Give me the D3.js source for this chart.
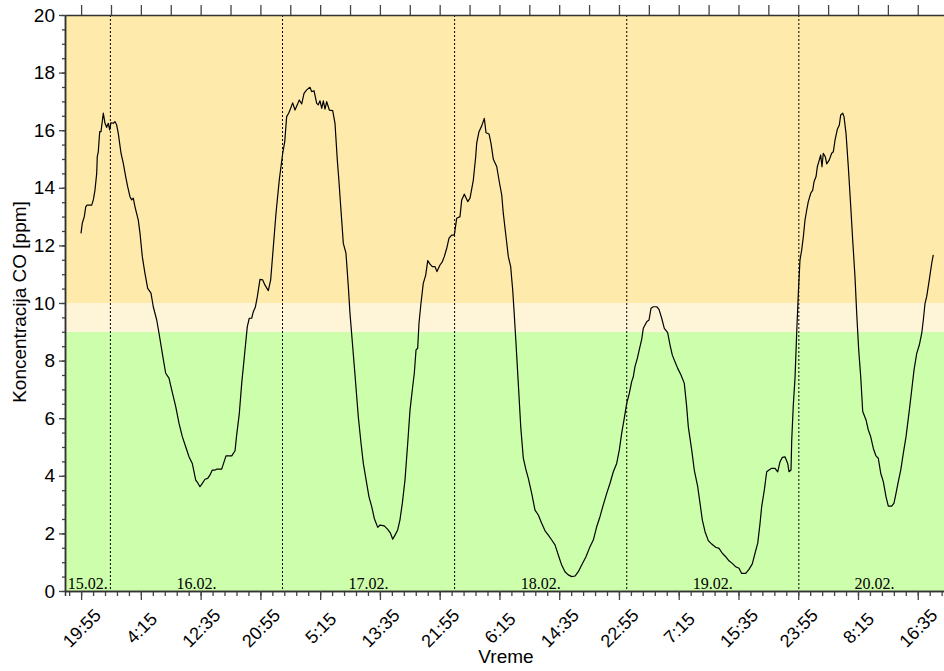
<!DOCTYPE html>
<html>
<head>
<meta charset="utf-8">
<script src="https://cdn.jsdelivr.net/npm/d3@7"></script>
<style>
  body { margin: 0; background: #fff; }
  svg { display: block; font-family: "Liberation Sans", Arial, sans-serif; }
</style>
</head>
<body>
<div id="chart"></div>
<script>
// sati od 15.02. 00:00
const hours = [
  19.90,20.08,20.36,20.56,20.74,21.39,21.62,21.85,22.09,22.17,
  22.31,22.51,22.69,23.01,23.25,23.48,23.71,23.90,24.08,24.40,
  24.64,24.88,25.10,25.48,25.80,26.13,26.41,26.73,26.97,27.19,
  27.43,27.89,28.13,28.45,28.82,29.20,29.66,29.98,30.46,30.78,
  31.24,31.71,32.17,32.55,33.11,33.57,34.03,34.50,34.96,35.42,
  35.90,36.17,36.49,36.82,37.19,37.57,37.89,38.21,38.59,38.82,
  39.52,40.12,40.92,41.38,41.61,41.98,42.31,42.77,43.09,43.37,
  43.70,43.93,44.21,44.49,44.86,45.24,45.56,46.02,46.35,46.72,
  47.09,47.55,48.03,48.31,48.58,48.86,49.14,49.42,49.74,50.06,
  50.34,50.68,51.00,51.37,51.83,52.07,52.39,52.77,52.99,53.23,
  53.47,53.69,53.93,54.16,54.53,55.00,55.32,55.64,55.84,56.12,
  56.48,56.85,57.18,57.41,57.79,58.11,58.57,58.95,59.27,59.74,
  60.06,60.44,60.80,61.28,61.60,62.20,62.67,63.03,63.37,63.69,
  64.06,64.38,64.71,65.08,65.46,65.78,66.10,66.38,66.62,66.85,
  67.03,67.31,67.63,67.97,68.25,68.57,68.89,69.27,69.54,69.96,
  70.28,70.56,70.90,71.22,71.59,71.96,72.29,72.75,72.99,73.35,
  73.83,74.15,74.61,74.94,75.08,75.40,75.78,76.14,76.38,76.80,
  77.07,77.40,77.87,78.23,78.57,78.79,79.17,79.49,79.82,80.10,
  80.28,80.56,80.88,81.22,81.58,81.96,82.28,82.75,83.21,83.67,
  84.14,84.61,85.07,85.54,86.00,86.46,86.93,87.39,87.85,88.33,
  88.79,89.25,89.72,90.32,90.88,91.34,91.81,92.27,92.73,93.21,
  93.67,94.13,94.60,94.97,95.30,95.62,96.00,96.36,96.69,96.92,
  97.15,97.48,97.76,98.09,98.31,98.79,99.11,99.39,99.71,100.18,
  100.50,100.88,101.24,101.71,102.04,102.36,102.73,103.11,103.57,104.03,
  104.36,104.59,105.06,105.42,105.90,106.22,106.54,106.92,107.38,107.85,
  108.41,108.87,109.33,109.80,110.26,110.72,111.20,111.66,112.03,112.59,
  113.05,113.51,113.89,114.27,114.59,114.82,115.19,115.52,115.84,116.22,
  116.68,117.05,117.38,117.70,118.07,118.45,118.63,118.91,119.01,119.23,
  119.47,119.70,119.93,120.16,120.40,120.63,120.86,121.10,121.32,121.66,
  121.94,122.12,122.40,122.58,122.86,123.05,123.23,123.41,123.69,123.89,
  124.25,124.58,124.81,125.05,125.37,125.65,125.84,126.12,126.30,126.58,
  126.90,127.24,127.51,127.83,128.07,128.35,128.63,128.91,129.37,129.69,
  130.02,130.39,130.76,131.08,131.42,131.78,132.16,132.48,132.95,133.27,
  133.55,133.87,134.21,134.57,134.95,135.41,135.74,136.06,136.44,136.80,
  137.14,137.36,137.60,137.83,138.19,138.53,138.75
];

// koncentracija CO [ppm]
const coPpm = [
  12.42,12.77,13.00,13.34,13.40,13.40,13.58,13.92,14.50,15.08,
  15.25,15.95,15.95,16.59,16.24,16.10,16.24,16.01,16.26,16.24,
  16.30,16.18,15.89,15.20,14.85,14.39,14.04,13.69,13.58,13.64,
  13.34,12.88,12.42,11.61,11.03,10.51,10.34,9.87,9.41,8.95,
  8.25,7.56,7.39,6.98,6.40,5.82,5.36,5.01,4.66,4.43,
  3.85,3.76,3.62,3.74,3.88,3.91,4.03,4.20,4.20,4.23,
  4.23,4.69,4.69,4.87,5.42,6.17,7.21,8.37,9.18,9.47,
  9.47,9.70,9.85,10.22,10.82,10.80,10.62,10.43,10.80,11.95,
  13.11,14.27,15.20,15.60,16.47,16.59,16.76,16.95,16.70,16.88,
  17.05,16.91,17.28,17.40,17.49,17.34,17.37,16.93,16.88,17.02,
  16.76,17.02,16.73,16.99,16.70,16.68,16.24,14.97,14.33,13.34,
  12.07,11.73,10.57,9.64,8.48,7.50,6.05,5.13,4.43,3.74,
  3.27,2.93,2.52,2.21,2.29,2.26,2.14,2.02,1.80,1.94,
  2.12,2.47,3.05,3.85,5.13,6.28,6.98,7.56,8.37,8.43,
  9.29,9.99,10.68,10.97,11.47,11.35,11.26,11.26,11.09,11.32,
  11.43,11.61,11.90,12.25,12.36,12.36,12.94,13.00,13.58,13.78,
  13.52,13.64,14.27,15.08,15.55,15.95,16.15,16.41,15.91,15.87,
  15.55,14.99,14.74,14.21,13.75,13.11,12.30,11.61,11.26,10.45,
  9.76,8.60,7.21,5.70,4.61,4.20,3.91,3.39,2.81,2.64,
  2.35,2.09,1.94,1.77,1.60,1.25,0.90,0.67,0.56,0.50,
  0.52,0.67,0.90,1.19,1.54,1.77,2.23,2.58,2.99,3.39,
  3.74,4.14,4.43,4.90,5.48,5.94,6.52,6.86,7.27,7.44,
  7.79,8.08,8.39,8.74,9.12,9.35,9.41,9.82,9.87,9.87,
  9.78,9.47,9.12,8.97,8.54,8.19,7.96,7.73,7.50,7.21,
  6.40,5.70,4.90,4.20,3.62,3.05,2.47,2.06,1.75,1.63,
  1.52,1.48,1.31,1.19,1.05,0.96,0.84,0.79,0.61,0.61,
  0.75,0.94,1.31,1.66,2.35,2.93,3.51,4.14,4.20,4.26,
  4.26,4.14,4.49,4.64,4.66,4.43,4.14,4.20,5.24,6.46,
  7.40,8.95,10.34,11.49,11.84,12.30,12.88,13.23,13.52,13.81,
  13.92,14.21,14.39,14.73,14.97,15.14,14.73,15.20,15.08,14.83,
  14.97,15.20,15.25,15.66,16.03,16.18,16.53,16.59,16.47,15.89,
  14.73,13.34,12.19,10.91,9.64,8.37,7.44,6.23,5.94,5.59,
  5.36,4.95,4.69,4.61,4.09,3.80,3.27,2.95,2.95,3.05,
  3.39,3.80,4.20,4.78,5.36,6.28,6.98,7.67,8.25,8.54,
  8.95,9.41,9.99,10.22,10.80,11.38,11.67
];

const xTickLabels = ["19:55", "4:15", "12:35", "20:55", "5:15", "13:35", "21:55", "6:15",
  "14:35", "22:55", "7:15", "15:35", "23:55", "8:15", "16:35"];
const dayLabels = ["15.02.", "16.02.", "17.02.", "18.02.", "19.02.", "20.02."];
const yTicks = [0, 2, 4, 6, 8, 10, 12, 14, 16, 18, 20];
const limits = [9, 10]; // granice zona

const width = 944, height = 671;
const plotLeft = 65, plotRight = 950, plotTop = 15, plotBottom = 591;

const base = Date.UTC(2016, 1, 15);
const toDate = h => new Date(base + h * 3600e3);
const firstTick = 19 + 55 / 60; // 19:55 prvog dana
const stepH = 500 / 60;        // razmak glavnih oznaka

const data = hours.map((h, i) => ({ t: toDate(h), v: coPpm[i] }));

const x = d3.scaleTime().domain([toDate(17.67), toDate(141.08)]).range([plotLeft, plotRight]);
const y = d3.scaleLinear().domain([0, 20]).range([plotBottom, plotTop]);

const svg = d3.select("#chart").append("svg")
  .attr("width", width)
  .attr("height", height);

// zone u pozadini
const zones = [
  { from: 0, to: limits[0], fill: "#ccfeab" },
  { from: limits[0], to: limits[1], fill: "#fef4d7" },
  { from: limits[1], to: 20, fill: "#feebab" }
];
svg.selectAll("rect.zone")
  .data(zones)
  .enter()
  .append("rect")
  .attr("class", "zone")
  .attr("x", plotLeft)
  .attr("width", plotRight - plotLeft)
  .attr("y", d => y(d.to))
  .attr("height", d => y(d.from) - y(d.to))
  .attr("fill", d => d.fill);

// ponoc - isprekidane linije
const midnights = d3.range(1, dayLabels.length).map(d => toDate(d * 24));
svg.selectAll("line.midnight")
  .data(midnights)
  .enter()
  .append("line")
  .attr("class", "midnight")
  .attr("x1", d => x(d)).attr("x2", d => x(d))
  .attr("y1", plotTop).attr("y2", plotBottom)
  .attr("stroke", "#000")
  .attr("stroke-width", 1)
  .attr("stroke-dasharray", "2,2");

// datumi dole
svg.selectAll("text.day")
  .data(dayLabels)
  .enter()
  .append("text")
  .attr("class", "day")
  .attr("x", (d, i) => {
    const a = Math.max(x(toDate(i * 24)), plotLeft);
    const b = Math.min(x(toDate((i + 1) * 24)), plotRight);
    return (a + b) / 2;
  })
  .attr("y", plotBottom - 2)
  .attr("text-anchor", "middle")
  .style("font-family", '"Liberation Serif", "Times New Roman", serif')
  .style("font-size", "16px")
  .attr("fill", "#000")
  .text(d => d);

// linija
const line = d3.line()
  .x(d => x(d.t))
  .y(d => y(d.v));

svg.append("path")
  .datum(data)
  .attr("fill", "none")
  .attr("stroke", "#000")
  .attr("stroke-width", 1.2)
  .attr("stroke-linejoin", "round")
  .attr("d", line);

// ose
const majorX = xTickLabels.map((d, i) => toDate(firstTick + i * stepH));
const minorX = d3.range(-1, xTickLabels.length * 5).map(i => toDate(firstTick + i * stepH / 5))
  .filter(d => x(d) >= plotLeft && x(d) <= plotRight);
const topX = d3.range(0, xTickLabels.length * 2 + 1).map(i => toDate(firstTick + i * stepH / 2))
  .filter(d => x(d) >= plotLeft && x(d) <= plotRight);

function styleAxis(g) {
  g.select(".domain").attr("stroke", "#333").attr("stroke-width", 1.5);
  g.selectAll(".tick line").attr("stroke", "#444").attr("stroke-width", 1.3);
}

svg.append("g")
  .attr("transform", `translate(0,${plotBottom})`)
  .call(d3.axisBottom(x).tickValues(minorX).tickSize(5).tickFormat(""))
  .call(styleAxis);

const gx = svg.append("g")
  .attr("transform", `translate(0,${plotBottom})`)
  .call(d3.axisBottom(x).tickValues(majorX).tickSize(9).tickSizeOuter(0)
    .tickFormat((d, i) => xTickLabels[i]))
  .call(styleAxis);
gx.selectAll("text")
  .attr("y", 0)
  .attr("dy", "0.35em")
  .attr("text-anchor", "middle")
  .attr("transform", "translate(0,37) rotate(-45)")
  .attr("fill", "#000")
  .style("font-size", "18px")
  .style("font-family", '"Liberation Sans", Arial, sans-serif');

svg.append("g")
  .attr("transform", `translate(0,${plotTop})`)
  .call(d3.axisTop(x).tickValues(topX).tickSize(10).tickSizeOuter(0).tickFormat(""))
  .call(styleAxis);

const minorY = d3.range(0, 20.01, 0.5);
svg.append("g")
  .attr("transform", `translate(${plotLeft},0)`)
  .call(d3.axisLeft(y).tickValues(minorY).tickSize(3).tickSizeOuter(0).tickFormat(""))
  .call(styleAxis);

const gy = svg.append("g")
  .attr("transform", `translate(${plotLeft},0)`)
  .call(d3.axisLeft(y).tickValues(yTicks).tickSize(6).tickSizeOuter(0).tickFormat(d3.format("d")))
  .call(styleAxis);
gy.selectAll("text")
  .attr("x", -10)
  .attr("fill", "#000")
  .style("font-size", "19px")
  .style("font-family", '"Liberation Sans", Arial, sans-serif');

// naslovi osa
svg.append("text")
  .attr("x", 506)
  .attr("y", 663)
  .attr("text-anchor", "middle")
  .style("font-size", "19px")
  .attr("fill", "#000")
  .text("Vreme");

svg.append("text")
  .attr("transform", "translate(26,302) rotate(-90)")
  .attr("text-anchor", "middle")
  .style("font-size", "19px")
  .attr("fill", "#000")
  .text("Koncentracija CO [ppm]");
</script>
</body>
</html>
